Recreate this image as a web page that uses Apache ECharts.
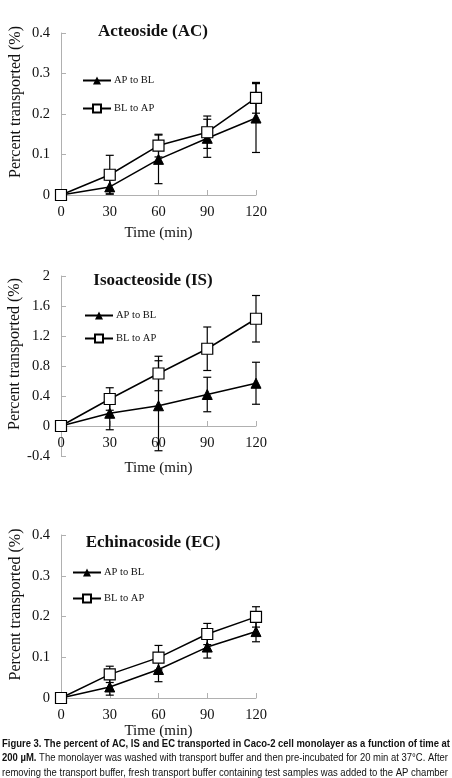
<!DOCTYPE html>
<html>
<head>
<meta charset="utf-8">
<script src="https://cdn.jsdelivr.net/npm/echarts@6/dist/echarts.min.js"></script>
<style>
  html, body { margin: 0; padding: 0; background: #fff; }
  #chart { width: 452px; height: 778px; }
</style>
</head>
<body>
<div id="chart"></div>
<script>
// time points (min)
const times = [0, 30, 60, 90, 120];

// Acteoside (AC)
const acApBl = [0, 0.02, 0.088, 0.14, 0.19];
const acApBlErr = [0, 0.017, 0.06, 0.047, 0.085];
const acBlAp = [0, 0.05, 0.122, 0.155, 0.24];
const acBlApErr = [0, 0.048, 0.028, 0.04, 0.038];

// Isoacteoside (IS)
const isApBl = [0, 0.17, 0.27, 0.42, 0.57];
const isApBlErr = [0, 0.22, 0.6, 0.23, 0.28];
const isBlAp = [0, 0.36, 0.70, 1.03, 1.43];
const isBlApErr = [0, 0.15, 0.23, 0.29, 0.31];

// Echinacoside (EC)
const ecApBl = [0, 0.027, 0.07, 0.125, 0.163];
const ecApBlErr = [0, 0.02, 0.03, 0.027, 0.025];
const ecBlAp = [0, 0.058, 0.099, 0.157, 0.199];
const ecBlApErr = [0, 0.02, 0.03, 0.026, 0.025];

const panelTitles = ['Acteoside (AC)', 'Isoacteoside (IS)', 'Echinacoside (EC)'];
const yRanges = [[0, 0.4, 0.1], [-0.4, 2, 0.4], [0, 0.4, 0.1]];

const captionLines = [
  '{b|Figure 3. The percent of AC, IS and EC transported in Caco-2 cell monolayer as a function of time at}',
  '{b|200 µM.} The monolayer was washed with transport buffer and then pre-incubated for 20 min at 37°C. After',
  'removing the transport buffer, fresh transport buffer containing test samples was added to the AP chamber'
];
const captionPlain = [
  ['Figure 3. The percent of AC, IS and EC transported in Caco-2 cell monolayer as a function of time at', ''],
  ['200 µM.', ' The monolayer was washed with transport buffer and then pre-incubated for 20 min at 37°C. After'],
  ['', 'removing the transport buffer, fresh transport buffer containing test samples was added to the AP chamber']
];

const panels = [
  { ap: acApBl, apErr: acApBlErr, bl: acBlAp, blErr: acBlApErr },
  { ap: isApBl, apErr: isApBlErr, bl: isBlAp, blErr: isBlApErr },
  { ap: ecApBl, apErr: ecApBlErr, bl: ecBlAp, blErr: ecBlApErr }
];

// layout
const grids = [
  { left: 61, top: 33, width: 195, height: 162 },
  { left: 61, top: 276, width: 195, height: 180 },
  { left: 61, top: 535, width: 195, height: 163 }
];
const titleTops = [23, 272, 534];
const legendPos = [
  { left: 82, top: 75, itemGap: 17 },
  { left: 84, top: 310, itemGap: 12 },
  { left: 72, top: 567, itemGap: 15 }
];
const xNameGaps = [31, 35, 26];

const serif = '"Liberation Serif", "Times New Roman", serif';
const axisGrey = '#b0b0b0';

const chart = echarts.init(document.getElementById('chart'));

const toPairs = (vals) => times.map((t, i) => [t, vals[i]]);
const toErr = (vals, errs) => times.map((t, i) => [t, vals[i] - errs[i], vals[i] + errs[i]]);

const errorBar = (params, api) => {
  const x = api.value(0);
  const lo = api.coord([x, api.value(1)]);
  const hi = api.coord([x, api.value(2)]);
  if (api.value(2) - api.value(1) <= 0) return null;
  const cap = 4;
  const style = { stroke: '#000', lineWidth: 1.2 };
  return {
    type: 'group',
    children: [
      { type: 'line', shape: { x1: lo[0], y1: lo[1], x2: hi[0], y2: hi[1] }, style },
      { type: 'line', shape: { x1: lo[0] - cap, y1: lo[1], x2: lo[0] + cap, y2: lo[1] }, style },
      { type: 'line', shape: { x1: hi[0] - cap, y1: hi[1], x2: hi[0] + cap, y2: hi[1] }, style }
    ]
  };
};

const series = [];
panels.forEach((p, i) => {
  series.push({
    type: 'custom', xAxisIndex: i, yAxisIndex: i, z: 1, silent: true,
    renderItem: errorBar, data: toErr(p.ap, p.apErr), encode: { x: 0, y: [1, 2] }
  });
  series.push({
    type: 'custom', xAxisIndex: i, yAxisIndex: i, z: 1, silent: true,
    renderItem: errorBar, data: toErr(p.bl, p.blErr), encode: { x: 0, y: [1, 2] }
  });
  series.push({
    name: 'AP to BL', type: 'line', xAxisIndex: i, yAxisIndex: i, z: 3,
    data: toPairs(p.ap), symbol: 'triangle', symbolSize: 10,
    lineStyle: { color: '#000', width: 1.5 },
    itemStyle: { color: '#000', borderColor: '#000' }, silent: true
  });
  series.push({
    name: 'BL to AP', type: 'line', xAxisIndex: i, yAxisIndex: i, z: 4,
    data: toPairs(p.bl), symbol: 'rect', symbolSize: 11,
    lineStyle: { color: '#000', width: 1.5 },
    itemStyle: { color: '#fff', borderColor: '#000', borderWidth: 1.2 }, silent: true
  });
});

// caption text, squeezed to the page width
const captionFont = 10.5;
const measure = document.createElement('canvas').getContext('2d');
const textWidth = (txt, bold) => {
  measure.font = (bold ? 'bold ' : '') + captionFont + 'px "Liberation Sans", Arial, sans-serif';
  return measure.measureText(txt).width;
};
const captionTargets = [448, 446, 446];
const captionY = [744, 758, 773];
const graphic = captionLines.map((txt, i) => {
  const w = textWidth(captionPlain[i][0], true) + textWidth(captionPlain[i][1], false);
  return {
    type: 'text', x: 2, y: captionY[i], scaleX: captionTargets[i] / w,
    style: {
      text: txt, fill: '#111', fontSize: captionFont,
      fontFamily: '"Liberation Sans", Arial, sans-serif',
      verticalAlign: 'middle',
      rich: { b: { fontWeight: 'bold', fontSize: captionFont, fontFamily: '"Liberation Sans", Arial, sans-serif' } }
    }
  };
});

chart.setOption({
  backgroundColor: '#fff',
  animation: false,
  title: panelTitles.map((t, i) => ({
    text: t, left: 153, top: titleTops[i], textAlign: 'center', padding: 0,
    textStyle: { fontFamily: serif, fontSize: 17, fontWeight: 'bold', color: '#111' }
  })),
  legend: legendPos.map((pos) => ({
    ...pos, orient: 'vertical', selectedMode: false, itemWidth: 28, itemHeight: 10,
    data: ['AP to BL', 'BL to AP'], padding: 0,
    textStyle: { fontFamily: serif, fontSize: 10.5, color: '#111', padding: [0, 0, 0, -2] }
  })),
  grid: grids,
  // x axis sits on y = 0, also when the y range goes below zero
  xAxis: grids.map((g, i) => ({
    type: 'value', gridIndex: i, min: 0, max: 120, interval: 30,
    position: 'bottom',
    offset: -g.height * (0 - yRanges[i][0]) / (yRanges[i][1] - yRanges[i][0]),
    name: 'Time (min)', nameLocation: 'middle', nameGap: xNameGaps[i],
    nameTextStyle: { fontFamily: serif, fontSize: 15, color: '#111' },
    axisLine: { onZero: false, lineStyle: { color: axisGrey, width: 1 } },
    axisTick: { show: true, inside: true, length: 5, lineStyle: { color: axisGrey } },
    axisLabel: { fontFamily: serif, fontSize: 14.5, color: '#111', margin: 10 },
    splitLine: { show: false }
  })),
  yAxis: yRanges.map((r, i) => ({
    type: 'value', gridIndex: i, min: r[0], max: r[1], interval: r[2],
    name: 'Percent transported (%)', nameLocation: 'middle', nameGap: 37,
    nameTextStyle: { fontFamily: serif, fontSize: 16, color: '#111', padding: [0, 0, 0, 24] },
    axisLine: { show: true, lineStyle: { color: axisGrey, width: 1 } },
    axisTick: { show: true, inside: true, length: 5, lineStyle: { color: axisGrey } },
    axisLabel: { fontFamily: serif, fontSize: 14.5, color: '#111', margin: 11 },
    splitLine: { show: false }
  })),
  series,
  graphic
});
</script>
</body>
</html>
